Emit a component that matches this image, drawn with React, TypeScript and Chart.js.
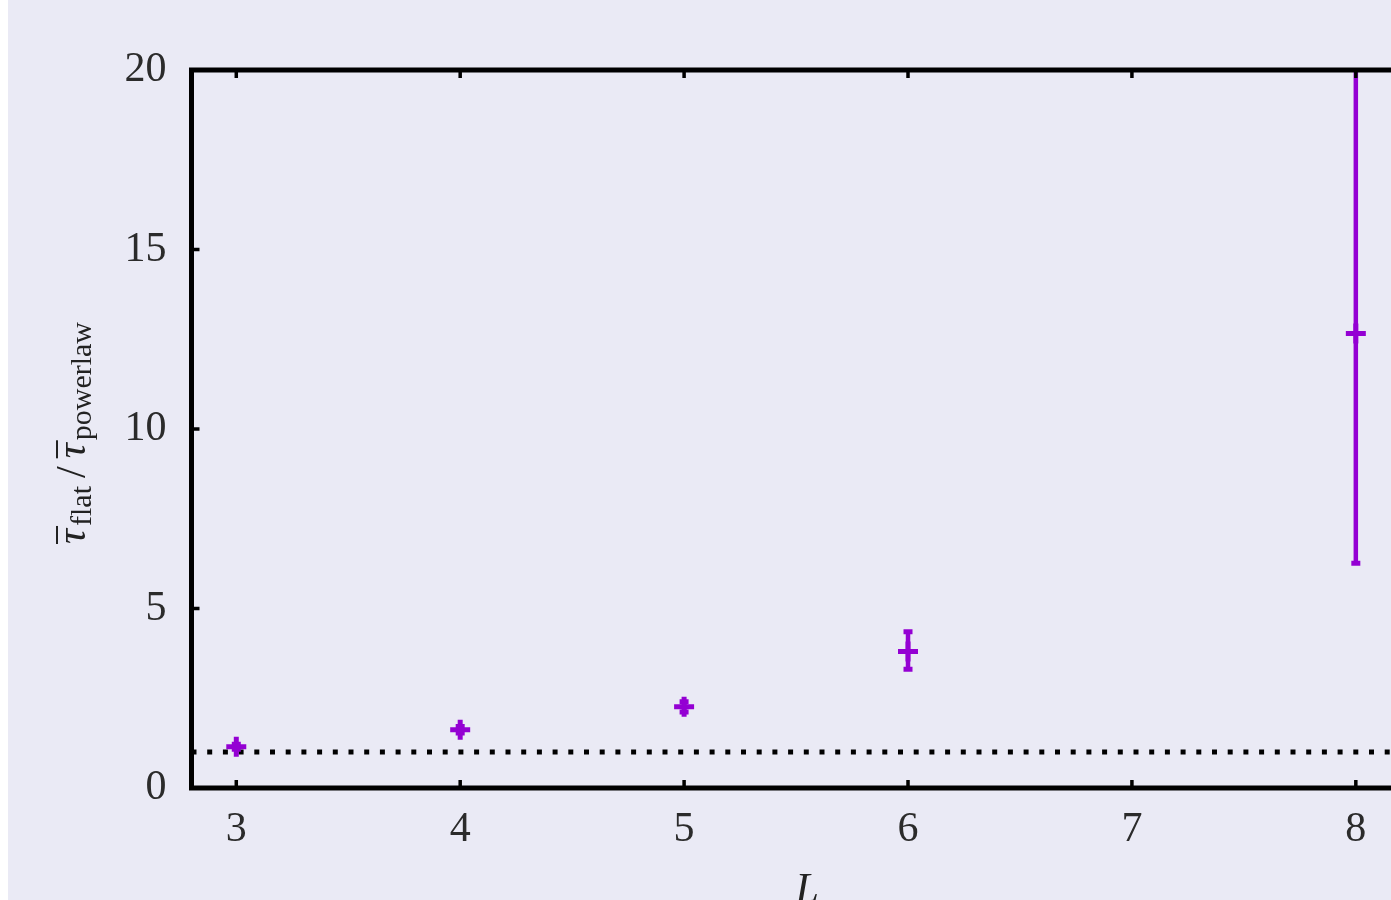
import React, { useEffect, useRef } from 'react';
import { Chart, registerables } from 'chart.js';

Chart.register(...registerables);

// ---- data ----
const systemSizes = [3, 4, 5, 6, 8];
const ratioValues = [1.15, 1.62, 2.26, 3.8, 12.66];
const ratioLower = [1.08, 1.53, 2.12, 3.31, 6.26];
const ratioUpper = [1.22, 1.71, 2.4, 4.35, 21.5];
const xTickValues = [3, 4, 5, 6, 7, 8];
const yTickValues = [0, 5, 10, 15, 20];
const referenceX = [2.8, 8.3];
const referenceY = [1, 1];
const X_MIN = 2.8;
const X_MAX = 8.3;
const Y_MIN = 0;
const Y_MAX = 20;

// ---- styles ----
const BG = '#eaeaf5';
const VIOLET = '#9400d3';
const FONT_FAMILY = '"Liberation Serif", "DejaVu Serif", serif';
const TICK_FONT_SIZE = 42;
const TEXT_COLOR = '#2b2b2b';
const CANVAS_W = 1460;
const CANVAS_H = 960;

const errorBarPlugin = {
  id: 'errorBars',
  afterDatasetsDraw(chart: any) {
    const { ctx, chartArea, scales } = chart;
    const xs = scales.x;
    const ys = scales.y;
    ctx.save();
    ctx.beginPath();
    ctx.rect(chartArea.left, chartArea.top, chartArea.right - chartArea.left, chartArea.bottom - chartArea.top);
    ctx.clip();
    ctx.strokeStyle = VIOLET;
    ctx.lineCap = 'butt';
    for (let i = 0; i < systemSizes.length; i++) {
      const px = xs.getPixelForValue(systemSizes[i]);
      const pLo = ys.getPixelForValue(ratioLower[i]);
      const pHi = ys.getPixelForValue(ratioUpper[i]);
      ctx.lineWidth = 4.5;
      ctx.beginPath();
      ctx.moveTo(px, pLo);
      ctx.lineTo(px, pHi);
      ctx.stroke();
      ctx.lineWidth = 5;
      for (const p of [pLo, pHi]) {
        ctx.beginPath();
        ctx.moveTo(px - 4.5, p);
        ctx.lineTo(px + 4.5, p);
        ctx.stroke();
      }
    }
    ctx.restore();
  },
};

const framePlugin = {
  id: 'frame',
  afterDraw(chart: any) {
    const { ctx, chartArea, scales } = chart;
    const { left, right, top, bottom } = chartArea;
    ctx.save();
    ctx.strokeStyle = '#000';
    ctx.lineWidth = 3.5;
    ctx.lineCap = 'butt';
    const tl = 8;
    for (const v of xTickValues) {
      const px = scales.x.getPixelForValue(v);
      ctx.beginPath();
      ctx.moveTo(px, bottom);
      ctx.lineTo(px, bottom - tl);
      ctx.moveTo(px, top);
      ctx.lineTo(px, top + tl);
      ctx.stroke();
    }
    for (const v of yTickValues) {
      const py = scales.y.getPixelForValue(v);
      ctx.beginPath();
      ctx.moveTo(left, py);
      ctx.lineTo(left + tl, py);
      ctx.moveTo(right, py);
      ctx.lineTo(right - tl, py);
      ctx.stroke();
    }
    ctx.lineWidth = 5;
    ctx.strokeRect(left, top, right - left, bottom - top);

    // x axis title
    ctx.fillStyle = '#222';
    ctx.font = `italic ${TICK_FONT_SIZE}px ${FONT_FAMILY}`;
    ctx.textAlign = 'center';
    ctx.textBaseline = 'alphabetic';
    ctx.fillText('L', (left + right) / 2, 902);

    // y axis title (rotated)
    const mainFont = `italic ${TICK_FONT_SIZE}px ${FONT_FAMILY}`;
    const upFont = `${TICK_FONT_SIZE}px ${FONT_FAMILY}`;
    const subFont = `30px ${FONT_FAMILY}`;
    type Seg = { t: string; font: string; dy: number; gap: number; bar?: boolean };
    const segs: Seg[] = [
      { t: 'τ', font: mainFont, dy: 0, gap: 3, bar: true },
      { t: 'flat', font: subFont, dy: 6, gap: 8 },
      { t: '/', font: upFont, dy: 0, gap: 8 },
      { t: 'τ', font: mainFont, dy: 0, gap: 3, bar: true },
      { t: 'powerlaw', font: subFont, dy: 6, gap: 0 },
    ];
    let total = 0;
    const widths: number[] = [];
    for (const s of segs) {
      ctx.font = s.font;
      const w = ctx.measureText(s.t).width;
      widths.push(w);
      total += w + s.gap;
    }
    const cx = 77;
    const cy = (top + bottom) / 2 + 4;
    ctx.translate(cx, cy);
    ctx.rotate(-Math.PI / 2);
    ctx.textAlign = 'left';
    let xpos = -total / 2;
    for (let i = 0; i < segs.length; i++) {
      const s = segs[i];
      ctx.font = s.font;
      ctx.fillText(s.t, xpos, s.dy);
      if (s.bar) {
        ctx.fillRect(xpos, -29, widths[i] + 3, 2);
      }
      xpos += widths[i] + s.gap;
    }
    ctx.restore();
  },
};

export default function App() {
  const canvasRef = useRef<HTMLCanvasElement | null>(null);

  useEffect(() => {
    if (!canvasRef.current) return;
    const chart = new Chart(canvasRef.current, {
      type: 'scatter',
      data: {
        datasets: [
          {
            label: 'ratio',
            data: systemSizes.map((x, i) => ({ x, y: ratioValues[i] })),
            pointStyle: 'cross',
            pointRadius: 10,
            pointHoverRadius: 10,
            borderWidth: 5,
            borderColor: VIOLET,
            backgroundColor: VIOLET,
            showLine: false,
          } as any,
          {
            type: 'line',
            label: 'reference',
            data: referenceX.map((x, i) => ({ x, y: referenceY[i] })),
            borderColor: '#000',
            borderWidth: 5,
            borderDash: [5, 10.7],
            borderCapStyle: 'butt',
            pointRadius: 0,
            fill: false,
          } as any,
        ],
      },
      options: {
        animation: false,
        responsive: false,
        maintainAspectRatio: false,
        devicePixelRatio: 1,
        layout: { padding: { top: 70, right: 45, left: 0, bottom: 0 } },
        plugins: {
          legend: { display: false },
          tooltip: { enabled: false },
          title: { display: false },
        },
        scales: {
          x: {
            type: 'linear',
            min: X_MIN,
            max: X_MAX,
            grid: { display: false, drawTicks: false },
            border: { display: false },
            ticks: {
              font: { family: FONT_FAMILY, size: TICK_FONT_SIZE },
              color: TEXT_COLOR,
              padding: 17,
              maxRotation: 0,
              autoSkip: false,
            },
            afterBuildTicks: (s: any) => {
              s.ticks = xTickValues.map((v) => ({ value: v }));
            },
            afterFit: (s: any) => {
              s.height = 172;
            },
          },
          y: {
            type: 'linear',
            min: Y_MIN,
            max: Y_MAX,
            grid: { display: false, drawTicks: false },
            border: { display: false },
            ticks: {
              font: { family: FONT_FAMILY, size: TICK_FONT_SIZE },
              color: TEXT_COLOR,
              padding: 25,
              autoSkip: false,
            },
            afterBuildTicks: (s: any) => {
              s.ticks = yTickValues.map((v) => ({ value: v }));
            },
            afterFit: (s: any) => {
              s.width = 183.5;
            },
          },
        },
      } as any,
      plugins: [errorBarPlugin, framePlugin],
    });
    return () => chart.destroy();
  }, []);

  return (
    <div
      style={{
        position: 'absolute',
        top: 0,
        left: 8,
        width: 1383,
        height: 900,
        overflow: 'hidden',
        background: BG,
      }}
    >
      <canvas
        ref={canvasRef}
        width={CANVAS_W}
        height={CANVAS_H}
        style={{ width: CANVAS_W, height: CANVAS_H, display: 'block', background: BG }}
      />
    </div>
  );
}
